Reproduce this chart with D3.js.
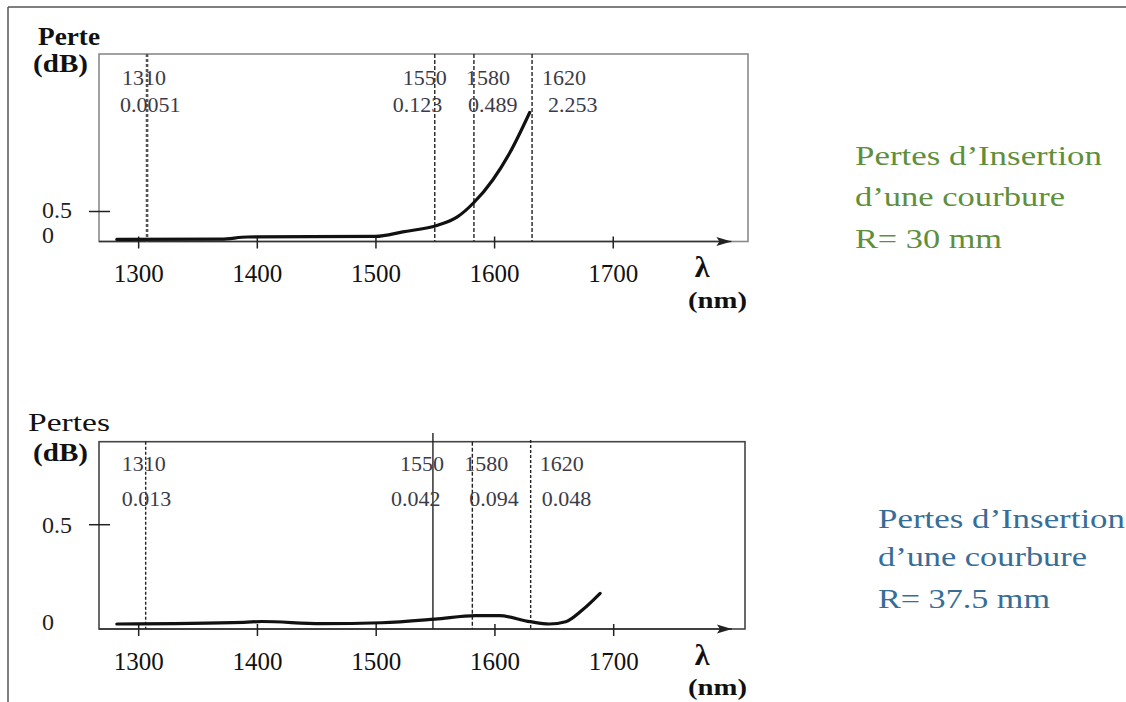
<!DOCTYPE html>
<html>
<head>
<meta charset="utf-8">
<script src="https://cdn.jsdelivr.net/npm/d3@7"></script>
<style>
  html, body { margin: 0; padding: 0; background: #fff; }
  svg { display: block; font-family: 'Liberation Serif', 'Times New Roman', serif; }
</style>
</head>
<body>
<div id="chart"></div>
<script>
// data
const xTicks = [1300, 1400, 1500, 1600, 1700];
const markerLabels = ['1310', '1550', '1580', '1620'];

// R = 30 mm
const topWl = [1282, 1370, 1392, 1500, 1523, 1553, 1569, 1583, 1599, 1613, 1630];
const topLoss = [0.035, 0.04, 0.075, 0.085, 0.16, 0.275, 0.41, 0.65, 1.03, 1.47, 2.15];
const topMarkerAt = [1307.5, 1550, 1583, 1632];
const topMarkerLoss = ['0.0051', '0.123', '0.489', '2.253'];

// R = 37.5 mm
const botWl = [1282, 1389, 1404, 1454, 1505, 1550, 1584, 1604, 1630, 1646, 1660, 1674, 1689];
const botLoss = [0.024, 0.032, 0.036, 0.026, 0.03, 0.047, 0.064, 0.064, 0.035, 0.024, 0.035, 0.091, 0.171];
const botMarkerAt = [1306.3, 1548.2, 1581.4, 1630.5];
const botMarkerLoss = ['0.013', '0.042', '0.094', '0.048'];

const W = 1126, H = 702;
const svg = d3.select('#chart').append('svg').attr('width', W).attr('height', H);

// outer frame (top + left only)
svg.append('line').attr('x1', 8).attr('x2', W).attr('y1', 7).attr('y2', 7)
  .attr('stroke', '#555').attr('stroke-width', 1.5);
svg.append('line').attr('x1', 8).attr('x2', 8).attr('y1', 7).attr('y2', H)
  .attr('stroke', '#555').attr('stroke-width', 1.5);

const panels = [
  {
    wl: topWl, loss: topLoss, at: topMarkerAt, vals: topMarkerLoss,
    xd: [1267, 1814], xr: [99, 748], yd: [0, 3.125], yr: [241.5, 54],
    boxColor: '#8a8a8a', yTicks: [0, 0.5], yDy: [-7, -2],
    lblDx: [-25, -32, -8, 10], valDx: [-27, -42, -6, 16],
    lblY: 77, valY: 104, dash: ['3,2', '4,2', '4,2', '4,2'],
    lineTop: [54, 54, 54, 54], wide: true,
    title: 'Perte', titleBold: true, titleSize: 26, titleY: 36, titleX: 38, titleLen: 62,
    dbY: 63
  },
  {
    wl: botWl, loss: botLoss, at: botMarkerAt, vals: botMarkerLoss,
    xd: [1267, 1811], xr: [99, 745], yd: [0, 0.898], yr: [629, 441.7],
    boxColor: '#444', yTicks: [0, 0.5], yDy: [-7, 0],
    lblDx: [-24, -33, -8, 9], valDx: [-24, -42, -3, 11],
    lblY: 463, valY: 498, dash: ['3,2', null, '4,2', '3,2'],
    lineTop: [441.7, 433, 441.7, 440], wide: false,
    title: 'Pertes', titleBold: false, titleSize: 26, titleY: 422, titleX: 28, titleLen: 82,
    dbY: 452
  }
];

panels.forEach((p) => {
  const x = d3.scaleLinear().domain(p.xd).range(p.xr);
  const y = d3.scaleLinear().domain(p.yd).range(p.yr);
  const g = svg.append('g');

  // plot box
  g.append('rect')
    .attr('x', p.xr[0]).attr('y', p.yr[1])
    .attr('width', p.xr[1] - p.xr[0]).attr('height', p.yr[0] - p.yr[1])
    .attr('fill', 'none').attr('stroke', p.boxColor).attr('stroke-width', 1.6);

  // axis line with arrow
  const tip = x(1800);
  g.append('line').attr('x1', p.xr[0]).attr('x2', tip).attr('y1', y(0)).attr('y2', y(0))
    .attr('stroke', '#333').attr('stroke-width', 1.6);
  g.append('path')
    .attr('d', `M${tip},${y(0)} l-15,-4.5 l3,4.5 l-3,4.5 z`)
    .attr('fill', '#222');

  // x ticks and labels
  const ax = g.append('g')
    .attr('transform', `translate(0,${y(0)})`)
    .call(d3.axisBottom(x).tickValues(xTicks).tickFormat(d3.format('d'))
      .tickSizeInner(7).tickSizeOuter(0).tickPadding(16));
  ax.select('.domain').remove();
  ax.selectAll('.tick line').attr('y1', -5).attr('stroke', '#222').attr('stroke-width', 1.5);
  ax.selectAll('.tick text').attr('font-size', 25).attr('fill', '#111')
    .attr('font-family', 'Liberation Serif');

  // y tick marks and labels
  g.append('line').attr('x1', p.xr[0] - 10).attr('x2', p.xr[0] + 11)
    .attr('y1', y(0.5)).attr('y2', y(0.5)).attr('stroke', '#222').attr('stroke-width', 1.5);
  g.selectAll('text.ytick').data(p.yTicks).join('text')
    .attr('class', 'ytick')
    .attr('x', 42).attr('y', (d) => y(d))
    .attr('dy', (d, i) => p.yDy[i])
    .attr('dominant-baseline', 'central')
    .attr('font-size', 24).attr('fill', '#222')
    .text((d) => d);

  // marker lines
  g.selectAll('line.marker').data(p.at).join('line')
    .attr('class', 'marker')
    .attr('x1', (d) => x(d)).attr('x2', (d) => x(d))
    .attr('y1', (d, i) => p.lineTop[i]).attr('y2', y(0))
    .attr('stroke', (d, i) => (i === 0 && p.wide ? '#555' : '#222'))
    .attr('stroke-width', (d, i) => (i === 0 && p.wide ? 2.6 : 1.4))
    .attr('stroke-dasharray', (d, i) => p.dash[i]);

  // marker labels
  g.selectAll('text.mlbl').data(markerLabels).join('text')
    .attr('class', 'mlbl')
    .attr('x', (d, i) => x(p.at[i]) + p.lblDx[i]).attr('y', p.lblY)
    .attr('dominant-baseline', 'central')
    .attr('font-size', 22).attr('fill', '#3b3b48')
    .text((d) => d);
  g.selectAll('text.mval').data(p.vals).join('text')
    .attr('class', 'mval')
    .attr('x', (d, i) => x(p.at[i]) + p.valDx[i]).attr('y', p.valY)
    .attr('dominant-baseline', 'central')
    .attr('font-size', 22).attr('fill', '#3b3b48')
    .text((d) => d);

  // loss curve
  const line = d3.line().x((d) => x(d[0])).y((d) => y(d[1])).curve(d3.curveMonotoneX);
  g.append('path')
    .datum(d3.zip(p.wl, p.loss))
    .attr('d', line)
    .attr('fill', 'none').attr('stroke', '#111').attr('stroke-width', 3.2)
    .attr('stroke-linejoin', 'round').attr('stroke-linecap', 'round');

  // axis titles
  g.append('text').attr('x', p.titleX).attr('y', p.titleY)
    .attr('dominant-baseline', 'central')
    .attr('font-size', p.titleSize).attr('font-weight', p.titleBold ? 'bold' : 'normal')
    .attr('textLength', p.titleLen).attr('lengthAdjust', 'spacingAndGlyphs')
    .attr('fill', '#111').text(p.title);
  g.append('text').attr('x', 33).attr('y', p.dbY)
    .attr('dominant-baseline', 'central')
    .attr('font-size', 25).attr('font-weight', 'bold')
    .attr('textLength', 55).attr('lengthAdjust', 'spacingAndGlyphs')
    .attr('fill', '#111').text('(dB)');
  g.append('text').attr('x', 702).attr('y', y(0) + 25)
    .attr('text-anchor', 'middle').attr('dominant-baseline', 'central')
    .attr('font-size', 30).attr('font-weight', 'bold').attr('fill', '#111').text('λ');
  g.append('text').attr('x', 688).attr('y', y(0) + 58)
    .attr('dominant-baseline', 'central')
    .attr('font-size', 24).attr('font-weight', 'bold')
    .attr('textLength', 59).attr('lengthAdjust', 'spacingAndGlyphs')
    .attr('fill', '#111').text('(nm)');
});

// side notes
const notes = [
  { x: 855, ys: [155, 196, 238], lens: [247, 210, 147], color: '#5f8f3d',
    lines: ['Pertes d’Insertion', 'd’une courbure', 'R= 30 mm'] },
  { x: 878, ys: [518, 556, 598], lens: [247, 209, 172], color: '#386d98',
    lines: ['Pertes d’Insertion', 'd’une courbure', 'R= 37.5 mm'] }
];
notes.forEach((n) => {
  svg.append('g').selectAll('text').data(n.lines).join('text')
    .attr('x', n.x).attr('y', (d, i) => n.ys[i])
    .attr('dominant-baseline', 'central')
    .attr('font-size', 28).attr('fill', n.color)
    .attr('textLength', (d, i) => n.lens[i]).attr('lengthAdjust', 'spacingAndGlyphs')
    .text((d) => d);
});
</script>
</body>
</html>
